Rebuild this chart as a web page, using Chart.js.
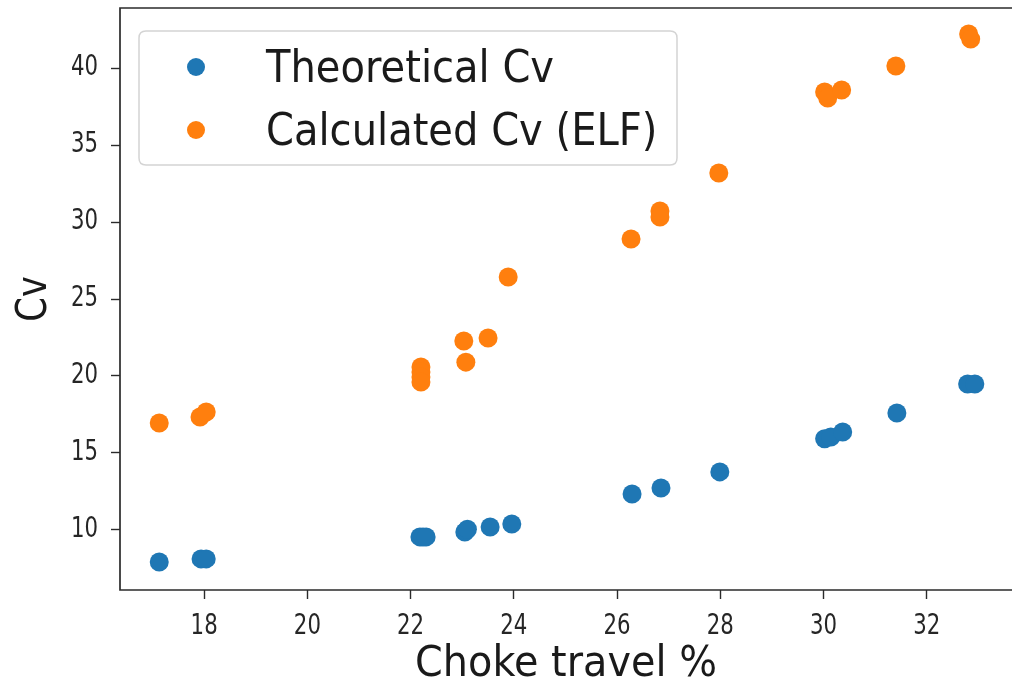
<!DOCTYPE html>
<html>
<head>
<meta charset="utf-8">
<script src="https://cdn.jsdelivr.net/npm/chart.js@4/dist/chart.umd.min.js"></script>
<style>
  html, body { margin: 0; padding: 0; background: #ffffff; overflow: hidden; }
  #wrap { width: 1012px; height: 682px; position: relative; overflow: hidden; }
  #c { display: block; }
</style>
</head>
<body>
<div id="wrap"><canvas id="c" width="1012" height="682"></canvas></div>
<script>
const seriesNames = ["Theoretical Cv", "Calculated Cv (ELF)"];
const seriesColors = ["#1f77b4", "#ff7f0e"];

const theoreticalX = [17.13, 17.94, 18.04, 22.18, 22.24, 22.30, 23.05, 23.10, 23.54, 23.96, 26.29, 26.85, 27.99, 30.02, 30.14, 30.37, 31.42, 32.79, 32.93];
const theoreticalY = [7.92, 8.12, 8.12, 9.55, 9.55, 9.55, 9.87, 10.05, 10.19, 10.39, 12.34, 12.73, 13.77, 15.92, 16.04, 16.36, 17.60, 19.48, 19.48];

const calculatedX = [17.13, 17.92, 18.04, 22.20, 22.20, 22.20, 22.20, 23.03, 23.07, 23.50, 23.89, 26.27, 26.83, 26.83, 27.97, 30.02, 30.08, 30.35, 31.40, 32.81, 32.85];
const calculatedY = [16.95, 17.34, 17.66, 20.58, 20.26, 19.94, 19.61, 22.27, 20.90, 22.47, 26.43, 28.90, 30.71, 30.32, 33.18, 38.44, 38.05, 38.57, 40.13, 42.21, 41.88];

const xTicks = [18, 20, 22, 24, 26, 28, 30, 32];
const yTicks = [10, 15, 20, 25, 30, 35, 40];

const xTitle = "Choke travel %";
const yTitle = "Cv";

function pts(xs, ys) { return xs.map((x, i) => ({ x: x, y: ys[i] })); }

const FONT = "'DejaVu Sans', sans-serif";
const SIZE_TICK = 28, SIZE_YTITLE = 42, SIZE_XTITLE = 43, SIZE_LEGEND = 44;
// horizontal squeeze of glyphs per font size (reference text is narrow)
const squeeze = { 28: 0.76, 42: 0.84, 43: 0.925, 44: 0.91 };

const canvas = document.getElementById('c');
const ctx2d = canvas.getContext('2d');
const origFillText = ctx2d.fillText;
ctx2d.fillText = function (text, x, y, maxWidth) {
  const m = /(\d+(?:\.\d+)?)px/.exec(this.font);
  const sx = m ? (squeeze[Math.round(parseFloat(m[1]))] || 1) : 1;
  if (sx === 1) {
    return maxWidth === undefined ? origFillText.call(this, text, x, y) : origFillText.call(this, text, x, y, maxWidth);
  }
  this.save();
  this.translate(x, y);
  this.scale(sx, 1);
  origFillText.call(this, text, 0, 0);
  this.restore();
};

const frameAndLegend = {
  id: 'frameAndLegend',
  afterDraw(chart) {
    const ctx = chart.ctx;
    const a = chart.chartArea;
    ctx.save();
    // spines: left, top, bottom (right spine lies just beyond the picture edge)
    ctx.strokeStyle = '#2b2b2b';
    ctx.lineWidth = 1.7;
    ctx.beginPath();
    ctx.moveTo(a.right + 2, a.top);
    ctx.lineTo(a.left, a.top);
    ctx.lineTo(a.left, a.bottom);
    ctx.lineTo(a.right + 2, a.bottom);
    ctx.stroke();
    // legend box
    const bx = a.left + 19, by = a.top + 23, bw = 538, bh = 134, r = 7;
    ctx.beginPath();
    ctx.moveTo(bx + r, by);
    ctx.lineTo(bx + bw - r, by);
    ctx.quadraticCurveTo(bx + bw, by, bx + bw, by + r);
    ctx.lineTo(bx + bw, by + bh - r);
    ctx.quadraticCurveTo(bx + bw, by + bh, bx + bw - r, by + bh);
    ctx.lineTo(bx + r, by + bh);
    ctx.quadraticCurveTo(bx, by + bh, bx, by + bh - r);
    ctx.lineTo(bx, by + r);
    ctx.quadraticCurveTo(bx, by, bx + r, by);
    ctx.closePath();
    ctx.fillStyle = 'rgba(255,255,255,0.8)';
    ctx.fill();
    ctx.strokeStyle = '#d4d4d4';
    ctx.lineWidth = 1.5;
    ctx.stroke();
    ctx.font = SIZE_LEGEND + 'px ' + FONT;
    ctx.textBaseline = 'alphabetic';
    ctx.textAlign = 'left';
    const baselines = [by + 51, by + 114];
    seriesNames.forEach((n, i) => {
      ctx.beginPath();
      ctx.arc(bx + 57, baselines[i] - 15, 9, 0, Math.PI * 2);
      ctx.fillStyle = seriesColors[i];
      ctx.fill();
      ctx.fillStyle = '#1a1a1a';
      ctx.fillText(n, bx + 127, baselines[i]);
    });
    ctx.restore();
  }
};

new Chart(canvas, {
  type: 'scatter',
  data: {
    datasets: [
      { label: seriesNames[0], data: pts(theoreticalX, theoreticalY), backgroundColor: seriesColors[0], borderColor: seriesColors[0], pointRadius: 9.5, pointBorderWidth: 0 },
      { label: seriesNames[1], data: pts(calculatedX, calculatedY), backgroundColor: seriesColors[1], borderColor: seriesColors[1], pointRadius: 9.5, pointBorderWidth: 0 }
    ]
  },
  options: {
    responsive: false,
    animation: false,
    devicePixelRatio: 1,
    layout: { autoPadding: false, padding: { top: 8, right: 0, left: 0, bottom: 0 } },
    plugins: { legend: { display: false }, tooltip: { enabled: false } },
    scales: {
      x: {
        type: 'linear',
        min: 16.37, max: 33.65,
        afterBuildTicks(scale) { scale.ticks = xTicks.map(v => ({ value: v })); },
        afterFit(scale) { scale.height = 92; scale.paddingLeft = 0; scale.paddingRight = 0; scale.paddingTop = 0; scale.paddingBottom = 0; },
        ticks: { color: '#262626', font: { family: FONT, size: SIZE_TICK, lineHeight: 1 }, padding: 14, maxRotation: 0, autoSkip: false, callback: v => String(v) },
        grid: { drawOnChartArea: false, drawTicks: true, tickLength: 9, tickColor: '#2b2b2b', tickWidth: 1.4 },
        border: { display: false },
        title: { display: true, text: xTitle, color: '#1a1a1a', font: { family: FONT, size: SIZE_XTITLE, lineHeight: 1 }, padding: { top: 0, bottom: -4 } }
      },
      y: {
        type: 'linear',
        min: 6.1, max: 43.9,
        afterBuildTicks(scale) { scale.ticks = yTicks.map(v => ({ value: v })); },
        afterFit(scale) { scale.width = 120; scale.paddingTop = 0; scale.paddingBottom = 0; scale.paddingLeft = 0; scale.paddingRight = 0; },
        ticks: { color: '#262626', font: { family: FONT, size: SIZE_TICK, lineHeight: 1 }, padding: 13, autoSkip: false, callback: v => String(v) },
        grid: { drawOnChartArea: false, drawTicks: true, tickLength: 9, tickColor: '#2b2b2b', tickWidth: 1.4 },
        border: { display: false },
        title: { display: true, text: yTitle, color: '#1a1a1a', font: { family: FONT, size: SIZE_YTITLE, lineHeight: 1 }, padding: { top: 14, bottom: 0 } }
      }
    }
  },
  plugins: [frameAndLegend]
});
</script>
</body>
</html>
